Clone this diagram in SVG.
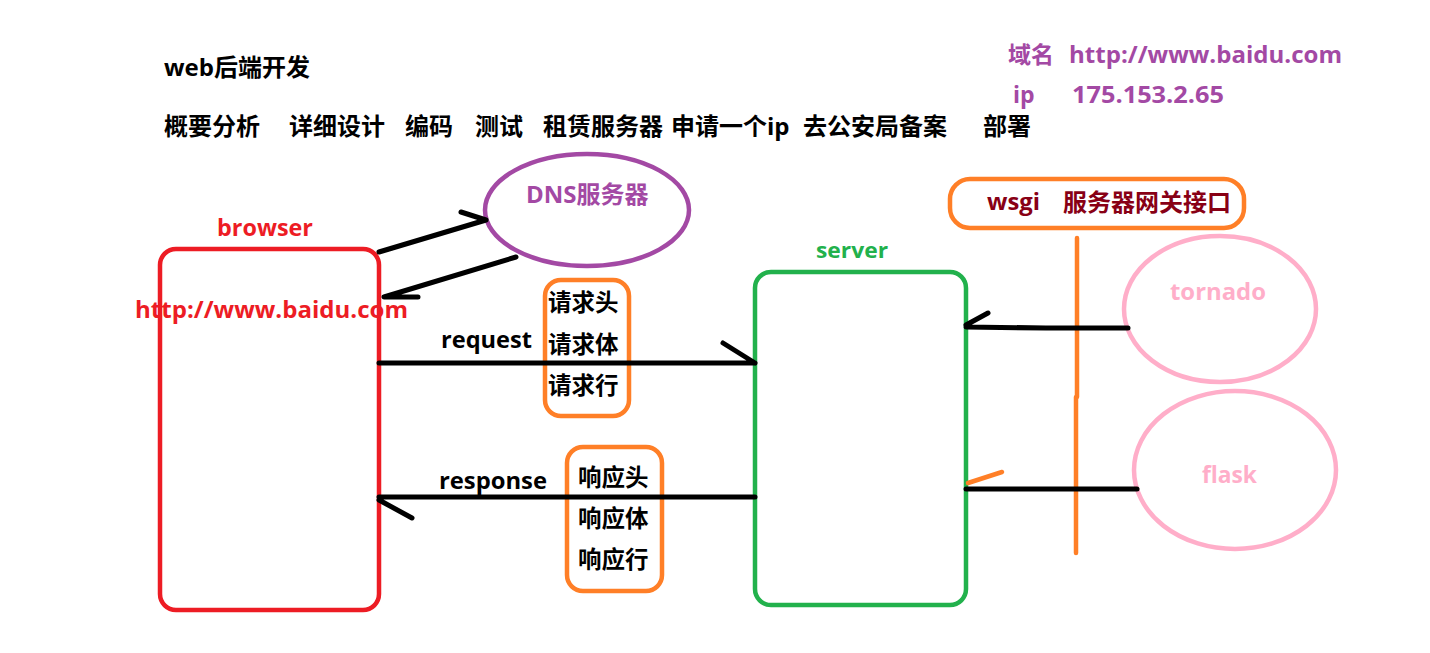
<svg xmlns="http://www.w3.org/2000/svg" width="1430" height="653" viewBox="0 0 1430 653">
<style>
text{font-family:"Open Sans","Noto Sans CJK SC",sans-serif;font-weight:bold}
.blk{fill:#000;font-size:24px}
.t1{fill:#000;font-size:24px}
.pur{fill:#A349A4;font-size:23px}
.red{fill:#ED1C24;font-size:23px}
.grn{fill:#22B14C;font-size:22px}
.pnk{fill:#FFAEC9;font-size:23px}
.drd{fill:#880015;font-size:24px}
.sm{fill:#000;font-size:23.5px}
.conn{fill:none;stroke:#000;stroke-width:5;stroke-linecap:round;stroke-linejoin:round}
.ora{fill:none;stroke:#FF7F27;stroke-width:4.5;stroke-linecap:round}
</style>
<rect width="1430" height="653" fill="#fff"/>
<g id="title"><text class="t1" x="164" y="76">web后端开发</text></g>
<g id="steps">
<text class="blk" x="164" y="135">概要分析</text>
<text class="blk" x="289" y="135">详细设计</text>
<text class="blk" x="405" y="135">编码</text>
<text class="blk" x="475" y="135">测试</text>
<text class="blk" x="543" y="135">租赁服务器</text>
<text class="blk" x="671" y="135">申请一个ip</text>
<text class="blk" x="803" y="135">去公安局备案</text>
<text class="blk" x="983" y="135">部署</text>
</g>
<g id="domain-info">
<text class="pur" x="1008" y="63">域名</text>
<text class="pur" x="1069" y="63" textLength="273" lengthAdjust="spacingAndGlyphs">http://www.baidu.com</text>
<text class="pur" x="1013" y="103">ip</text>
<text class="pur" x="1072" y="103" textLength="152" lengthAdjust="spacingAndGlyphs">175.153.2.65</text>
</g>
<g id="dns">
<ellipse cx="587" cy="210" rx="102" ry="56" fill="none" stroke="#A349A4" stroke-width="4.5"/>
<text class="pur" x="526" y="203" style="font-size:24px">DNS服务器</text>
</g>
<g id="browser">
<text class="red" x="217" y="236" textLength="96" lengthAdjust="spacingAndGlyphs">browser</text>
<rect x="160" y="249" width="219" height="361" rx="16" fill="none" stroke="#ED1C24" stroke-width="4.5"/>
<text class="red" x="135" y="318" textLength="273" lengthAdjust="spacingAndGlyphs">http://www.baidu.com</text>
</g>
<g id="server">
<text class="grn" x="816" y="258" textLength="72" lengthAdjust="spacingAndGlyphs">server</text>
<rect x="755" y="272" width="211" height="333" rx="16" fill="none" stroke="#22B14C" stroke-width="4.5"/>
</g>
<g id="request-box">
<rect x="545" y="280" width="84" height="136" rx="16" fill="none" stroke="#FF7F27" stroke-width="4.5"/>
<text class="sm" x="548" y="311">请求头</text>
<text class="sm" x="548" y="353">请求体</text>
<text class="sm" x="548" y="394">请求行</text>
</g>
<g id="response-box">
<rect x="567" y="447" width="95" height="144" rx="16" fill="none" stroke="#FF7F27" stroke-width="4.5"/>
<text class="sm" x="578" y="486">响应头</text>
<text class="sm" x="578" y="527">响应体</text>
<text class="sm" x="578" y="568">响应行</text>
</g>
<g id="wsgi">
<rect x="950" y="179" width="294" height="49" rx="20" fill="none" stroke="#FF7F27" stroke-width="4.5"/>
<text class="drd" x="987" y="210" textLength="53" lengthAdjust="spacingAndGlyphs">wsgi</text>
<text class="drd" x="1063" y="211">服务器网关接口</text>
<path class="ora" d="M1077 238 L1077 397 M1076 397 L1076 553"/>
</g>
<g id="tornado">
<ellipse cx="1220" cy="309" rx="96" ry="73" fill="none" stroke="#FFAEC9" stroke-width="4.5"/>
<text class="pnk" x="1170" y="300" textLength="96" lengthAdjust="spacingAndGlyphs">tornado</text>
</g>
<g id="flask">
<ellipse cx="1235" cy="470" rx="101" ry="79" fill="none" stroke="#FFAEC9" stroke-width="4.5"/>
<text class="pnk" x="1202" y="483" textLength="55" lengthAdjust="spacingAndGlyphs">flask</text>
</g>
<g id="connectors">
<path class="conn" d="M379 252 L486 220 M461 212 L486 220"/>
<path class="conn" d="M516 257 L384 297 L418 297"/>
<path class="conn" d="M379 363 L755 363 M723 343 L755 363"/>
<text class="sm" x="441" y="348" textLength="91" lengthAdjust="spacingAndGlyphs">request</text>
<path class="conn" d="M755 497 L379 497 M379 500 L412 518"/>
<text class="sm" x="439" y="489" textLength="108" lengthAdjust="spacingAndGlyphs">response</text>
<path class="conn" d="M1128 328 L1046 328 L966 327 M966 325 L988 313"/>
<path class="conn" d="M1137 489 L966 489"/>
<path class="ora" d="M968 483 L1002 472"/>
</g>
</svg>
